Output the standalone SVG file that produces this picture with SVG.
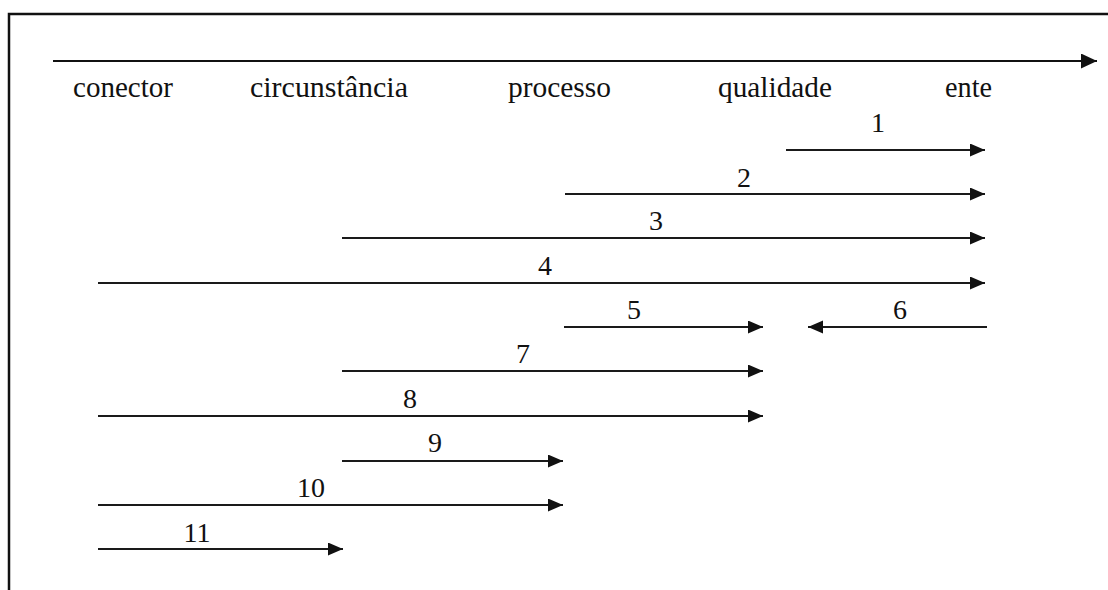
<svg xmlns="http://www.w3.org/2000/svg" width="1108" height="590" viewBox="0 0 1108 590">
  <style>
    .frame { fill: none; stroke: #111; stroke-width: 2.5; }
    .axis { stroke: #111; stroke-width: 2.2; fill: none; }
    .link { stroke: #1a1a1a; stroke-width: 2.2; fill: none; marker-end: url(#head); }
    .cat { font-family: "Liberation Serif", "Times New Roman", serif; font-size: 29px; fill: #111; }
    .num { font-family: "Liberation Serif", "Times New Roman", serif; font-size: 28px; fill: #111; text-anchor: middle; }
  </style>
  <defs>
    <marker id="head" markerUnits="userSpaceOnUse" markerWidth="16" markerHeight="14" refX="15" refY="6.5" orient="auto">
      <path d="M0,0 L15,6.5 L0,13 z" fill="#111"/>
    </marker>
    <marker id="headBig" markerUnits="userSpaceOnUse" markerWidth="17" markerHeight="16" refX="16" refY="7.5" orient="auto">
      <path d="M0,0 L16,7.5 L0,15 z" fill="#111"/>
    </marker>
  </defs>
  <rect width="1108" height="590" fill="#fff"/>
  <rect class="frame" x="9" y="14" width="1120" height="600"/>

  <!-- scale axis -->
  <g id="axis">
    <line class="axis" x1="53" y1="61" x2="1097" y2="61" marker-end="url(#headBig)"/>
  </g>

  <!-- category labels -->
  <g id="cat-conector"><text class="cat" x="73" y="97" textLength="100" lengthAdjust="spacingAndGlyphs">conector</text></g>
  <g id="cat-circunstancia"><text class="cat" x="250" y="97" textLength="158" lengthAdjust="spacingAndGlyphs">circunstância</text></g>
  <g id="cat-processo"><text class="cat" x="508" y="97" textLength="103" lengthAdjust="spacingAndGlyphs">processo</text></g>
  <g id="cat-qualidade"><text class="cat" x="718" y="97" textLength="114" lengthAdjust="spacingAndGlyphs">qualidade</text></g>
  <g id="cat-ente"><text class="cat" x="945" y="97" textLength="47" lengthAdjust="spacingAndGlyphs">ente</text></g>

  <!-- numbered transitions -->
  <g id="connectors">
    <line class="link" x1="786" y1="150" x2="985" y2="150"/>
    <line class="link" x1="565" y1="194" x2="985" y2="194"/>
    <line class="link" x1="342" y1="238" x2="985" y2="238"/>
    <line class="link" x1="98" y1="283" x2="985" y2="283"/>
    <line class="link" x1="564" y1="327" x2="763" y2="327"/>
    <line class="link" x1="987" y1="327" x2="808" y2="327"/>
    <line class="link" x1="342" y1="371" x2="763" y2="371"/>
    <line class="link" x1="98" y1="416" x2="763" y2="416"/>
    <line class="link" x1="342" y1="461" x2="563" y2="461"/>
    <line class="link" x1="98" y1="505" x2="563" y2="505"/>
    <line class="link" x1="98" y1="549" x2="343" y2="549"/>
  </g>

  <g id="labels">
    <text class="num" x="878" y="132">1</text>
    <text class="num" x="744" y="187">2</text>
    <text class="num" x="656" y="230">3</text>
    <text class="num" x="545" y="275">4</text>
    <text class="num" x="634" y="319">5</text>
    <text class="num" x="900" y="319">6</text>
    <text class="num" x="523" y="363">7</text>
    <text class="num" x="410" y="408">8</text>
    <text class="num" x="435" y="452">9</text>
    <text class="num" x="311" y="497">10</text>
    <text class="num" x="197" y="542">11</text>
  </g>
</svg>
